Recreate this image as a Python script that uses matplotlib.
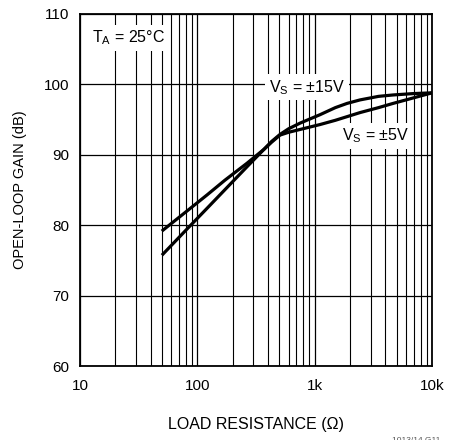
import matplotlib
matplotlib.use('Agg')
import matplotlib.pyplot as plt
from matplotlib.ticker import FixedLocator, NullFormatter

plt.rcParams['font.family'] = ['Liberation Sans', 'DejaVu Sans']
plt.rcParams['mathtext.fontset'] = 'custom'
plt.rcParams['mathtext.rm'] = 'Liberation Sans'

# ==================== data ====================
r_15v = [51, 80, 121, 190, 265, 371, 430, 507, 600, 751, 1112, 1500, 1888, 2440, 3500, 4660, 7000, 10000]
gain_15v = [75.9, 79.3, 82.4, 85.8, 88.3, 90.8, 91.9, 92.9, 93.7, 94.5, 95.7, 96.7, 97.3, 97.8, 98.3, 98.5, 98.7, 98.8]

r_5v = [51, 80, 121, 172, 265, 371, 430, 507, 600, 751, 1112, 1500, 2440, 3500, 4660, 7000, 10000]
gain_5v = [79.3, 81.9, 84.3, 86.4, 88.8, 90.8, 91.8, 92.8, 93.2, 93.6, 94.3, 94.9, 96.0, 96.7, 97.3, 98.1, 98.8]

x_ticks = [10, 100, 1000, 10000]
x_ticklabels = ['10', '100', '1k', '10k']
y_ticks = [60, 70, 80, 90, 100, 110]

fig = plt.figure(figsize=(4.61, 4.40), dpi=100)
ax = fig.add_axes([80/461, 1-366/440, 352/461, 352/440])

ax.plot(r_15v, gain_15v, color='black', linewidth=2.3, solid_joinstyle='round', zorder=5)
ax.plot(r_5v, gain_5v, color='black', linewidth=2.3, solid_joinstyle='round', zorder=5)

ax.set_xscale('log')
ax.set_xlim(10, 10000)
ax.set_ylim(60, 110)
ax.set_xticks(x_ticks)
ax.set_xticklabels(x_ticklabels)
minors = [m * d for d in [10, 100, 1000] for m in range(2, 10)]
ax.xaxis.set_minor_locator(FixedLocator(minors))
ax.xaxis.set_minor_formatter(NullFormatter())
ax.set_yticks(y_ticks)

ax.grid(True, which='major', color='black', linewidth=0.9)
ax.grid(True, which='minor', axis='x', color='black', linewidth=0.8)
ax.tick_params(which='both', length=0, labelsize=11)
ax.tick_params(axis='x', pad=9)
ax.tick_params(axis='y', pad=8)
for s in ax.spines.values():
    s.set_linewidth(1.3)

ax.set_xlabel('LOAD RESISTANCE (\u03a9)', fontsize=11.5, labelpad=18)
ax.set_ylabel('OPEN-LOOP GAIN (dB)', fontsize=10.5, labelpad=12)

box = dict(facecolor='white', edgecolor='none', pad=2.5)
ax.text(12.6, 106.6, r'T$_\mathregular{A}$ = 25°C', fontsize=11.5, ha='left', va='center', bbox=box, zorder=6)
ax.text(861, 99.6, r'V$_\mathregular{S}$ = ±15V', fontsize=11.5, ha='center', va='center', bbox=box, zorder=6)
ax.text(3340, 92.7, r'V$_\mathregular{S}$ = ±5V', fontsize=11.5, ha='center', va='center', bbox=box, zorder=6)

fig.text(0.955, -0.001, '1013/14 G11', fontsize=6, color='#555555', ha='right', va='center')

fig.savefig('out.png', dpi=100)
